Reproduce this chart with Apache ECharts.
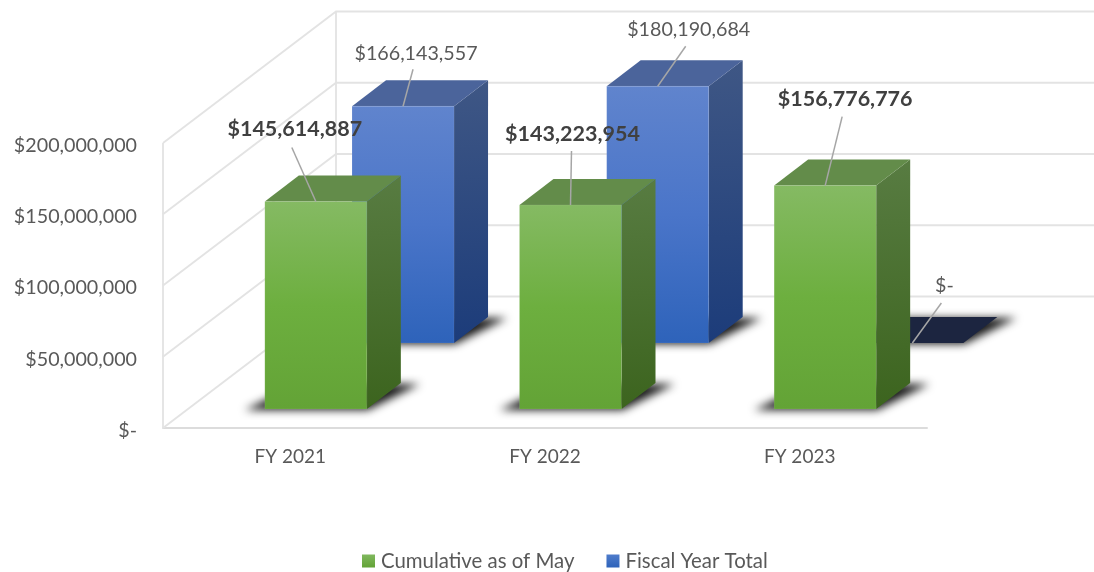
<!DOCTYPE html>
<html>
<head>
<meta charset="utf-8">
<style>
  html, body { margin: 0; padding: 0; background: #fff; }
  #chart { width: 1094px; height: 572px; }
</style>
<script src="https://cdn.jsdelivr.net/npm/echarts@6/dist/echarts.min.js"></script>
</head>
<body>
<div id="chart"></div>
<script>
const categories = ["FY 2021", "FY 2022", "FY 2023"];
const cumulative = [145614887, 143223954, 156776776];
const fiscalTotal = [166143557, 180190684, 0];
const tickValues = [0, 50000000, 100000000, 150000000, 200000000];

// label and leader placement relative to the top centre of each bar front
const cumulativeLabelPos = [[-21, -72, -24, -54], [2, -71, 1, -54], [20, -87, 17, -69]];
const fiscalLabelPos = [[13, -53, 10, -37], [31, -57, 28, -40], [32, -57, 29, -40]];

const BAR_W = 102;
const DEPTH_X = 34;
const DEPTH_Y = -26;
const WALL_X = 173;
const WALL_Y = -131.5;
const SHADOW_SHIFT = 3000;

function grad(x2, y2, stops) {
  return new echarts.graphic.LinearGradient(0, 0, x2, y2,
    stops.map(function (s) { return { offset: s[0], color: s[1] }; }));
}

const greenStyle = {
  front: grad(0, 1, [[0, "#85ba63"], [0.5, "#6daf3f"], [1, "#63a336"]]),
  side: grad(0.3, 1, [[0, "#587c42"], [1, "#3c641e"]]),
  top: "#638c4a",
  edge: "rgba(255,255,255,0.08)"
};
const blueStyle = {
  front: grad(0, 1, [[0, "#6084cd"], [0.5, "#4a75c9"], [1, "#2e63ba"]]),
  side: grad(0.3, 1, [[0, "#3f5785"], [1, "#1c3c7a"]]),
  top: "#4b649b",
  edge: "rgba(255,255,255,0.08)"
};

function poly(points, fill) {
  return {
    type: "polygon",
    shape: { points: points },
    style: { fill: fill }
  };
}

// soft floor shadow: the shape sits off canvas so only its blurred shadow shows
function floorShadow(l, r, b) {
  const s = SHADOW_SHIFT;
  const pts = [[l - 20 - s, b + 1], [r + 1 - s, b + 1], [r + DEPTH_X + 19 - s, b + DEPTH_Y + 1], [l + DEPTH_X - s, b + DEPTH_Y + 1]];
  return {
    type: "polygon",
    shape: { points: pts },
    style: {
      fill: "#000",
      shadowBlur: 9,
      shadowColor: "rgba(25,25,25,1)",
      shadowOffsetX: s
    }
  };
}

// extruded bar: shadow on the floor first, then the three visible faces
function barRenderer(look, frontDx, floorDy, emptyColor) {
  return function (params, api) {
    const idx = api.value(0);
    const val = api.value(1);
    const base = api.coord([idx, 0]);
    const top = api.coord([idx, val]);
    const l = base[0] + frontDx;
    const r = l + BAR_W;
    const b = base[1] + floorDy;
    const t = top[1] + floorDy;
    const dx = DEPTH_X;
    const dy = DEPTH_Y;
    const shadow = floorShadow(l, r, b);
    if (val === 0) {
      return {
        type: "group",
        children: [
          shadow,
          poly([[l, b], [r, b], [r + dx, b + dy], [l + dx, b + dy]], emptyColor)
        ]
      };
    }
    return {
      type: "group",
      children: [
        shadow,
        poly([[r, b], [r + dx, b + dy], [r + dx, t + dy], [r, t]], look.side),
        poly([[l, t], [r, t], [r + dx, t + dy], [l + dx, t + dy]], look.top),
        {
          type: "rect",
          shape: { x: l, y: t, width: BAR_W, height: b - t },
          style: { fill: look.front, stroke: look.edge, lineWidth: 1 }
        }
      ]
    };
  };
}

function wallRenderer(params, api) {
  const val = api.value(1);
  const sys = params.coordSys;
  const y = api.coord([0, val])[1];
  const x0 = sys.x;
  const x1 = x0 + WALL_X;
  const y1 = y + WALL_Y;
  const lineStyle = { stroke: "#e3e3e3", lineWidth: 1.8, fill: null };
  const children = [
    { type: "polyline", shape: { points: [[x0, y], [x1, y1], [api.getWidth(), y1]] }, style: lineStyle }
  ];
  if (val === 0) {
    children.push(
      { type: "line", shape: { x1: x0, y1: sys.y, x2: x0, y2: y }, style: lineStyle },
      { type: "line", shape: { x1: x1, y1: sys.y + WALL_Y, x2: x1, y2: y1 }, style: lineStyle }
    );
  }
  return { type: "group", children: children };
}

function labelRenderer(frontDx, floorDy, positions, bold) {
  return function (params, api) {
    const idx = api.value(0);
    const val = api.value(1);
    const pt = api.coord([idx, val]);
    const ax = api.coord([idx, 0])[0] + frontDx + BAR_W / 2;
    const ay = pt[1] + floorDy;
    const p = positions[idx];
    return {
      type: "group",
      children: [
        {
          type: "line",
          shape: { x1: ax + p[2], y1: ay + p[3], x2: ax, y2: ay },
          style: { stroke: "#a6a6a6", lineWidth: 1.5 }
        },
        {
          type: "text",
          x: ax + p[0],
          y: ay + p[1],
          style: {
            text: val === 0 ? "$-" : "$" + val.toLocaleString("en-US"),
            fill: bold ? "#404040" : "#595959",
            font: (bold ? "bold 21.5px" : "19.7px") + " Lato",
            align: "center",
            verticalAlign: "middle"
          }
        }
      ]
    };
  };
}

function pairs(values) {
  return values.map(function (v, i) { return [i, v]; });
}

const myChart = echarts.init(document.getElementById("chart"), null, { renderer: "canvas" });

myChart.setOption({
  animation: false,
  backgroundColor: "#fff",
  grid: { left: 163, right: 167, top: 143, bottom: 144 },
  legend: {
    data: ["Cumulative as of May", "Fiscal Year Total"],
    left: 357,
    top: 546,
    icon: "rect",
    itemWidth: 13,
    itemHeight: 13,
    itemGap: 32,
    itemStyle: { borderWidth: 0 },
    textStyle: { color: "#595959", fontFamily: "Lato", fontSize: 20.4, padding: [0, 0, 0, 1] }
  },
  xAxis: {
    type: "category",
    data: categories,
    axisTick: { show: false },
    axisLine: { lineStyle: { color: "#dcdcdc", width: 2 } },
    axisLabel: { color: "#595959", fontFamily: "Lato", fontSize: 19, margin: 19 }
  },
  yAxis: {
    type: "value",
    min: 0,
    max: 200000000,
    interval: 50000000,
    axisLine: { show: false },
    axisTick: { show: false },
    splitLine: { show: false },
    axisLabel: {
      color: "#595959",
      fontFamily: "Lato",
      fontSize: 19.7,
      margin: 26,
      verticalAlign: "top",
      lineHeight: 5,
      formatter: function (v) { return v === 0 ? "$-" : "$" + v.toLocaleString("en-US"); }
    }
  },
  series: [
    {
      name: "walls",
      type: "custom",
      z: 1,
      silent: true,
      renderItem: wallRenderer,
      data: pairs(tickValues).map(function (d) { return [0, d[1]]; })
    },
    {
      name: "Fiscal Year Total",
      type: "custom",
      z: 2,
      itemStyle: { color: grad(0, 1, [[0, "#4f7ccb"], [1, "#2e63ba"]]) },
      renderItem: barRenderer(blueStyle, 61.7, -85, "#1c2540"),
      data: pairs(fiscalTotal)
    },
    {
      name: "Cumulative as of May",
      type: "custom",
      z: 3,
      itemStyle: { color: grad(0, 1, [[0, "#80b85e"], [1, "#63a336"]]) },
      renderItem: barRenderer(greenStyle, -25.5, -19, "#63a336"),
      data: pairs(cumulative)
    },
    {
      name: "fiscal labels",
      type: "custom",
      z: 4,
      silent: true,
      renderItem: labelRenderer(61.7, -85, fiscalLabelPos, false),
      data: pairs(fiscalTotal)
    },
    {
      name: "cumulative labels",
      type: "custom",
      z: 4,
      silent: true,
      renderItem: labelRenderer(-25.5, -19, cumulativeLabelPos, true),
      data: pairs(cumulative)
    }
  ]
});
</script>
</body>
</html>
